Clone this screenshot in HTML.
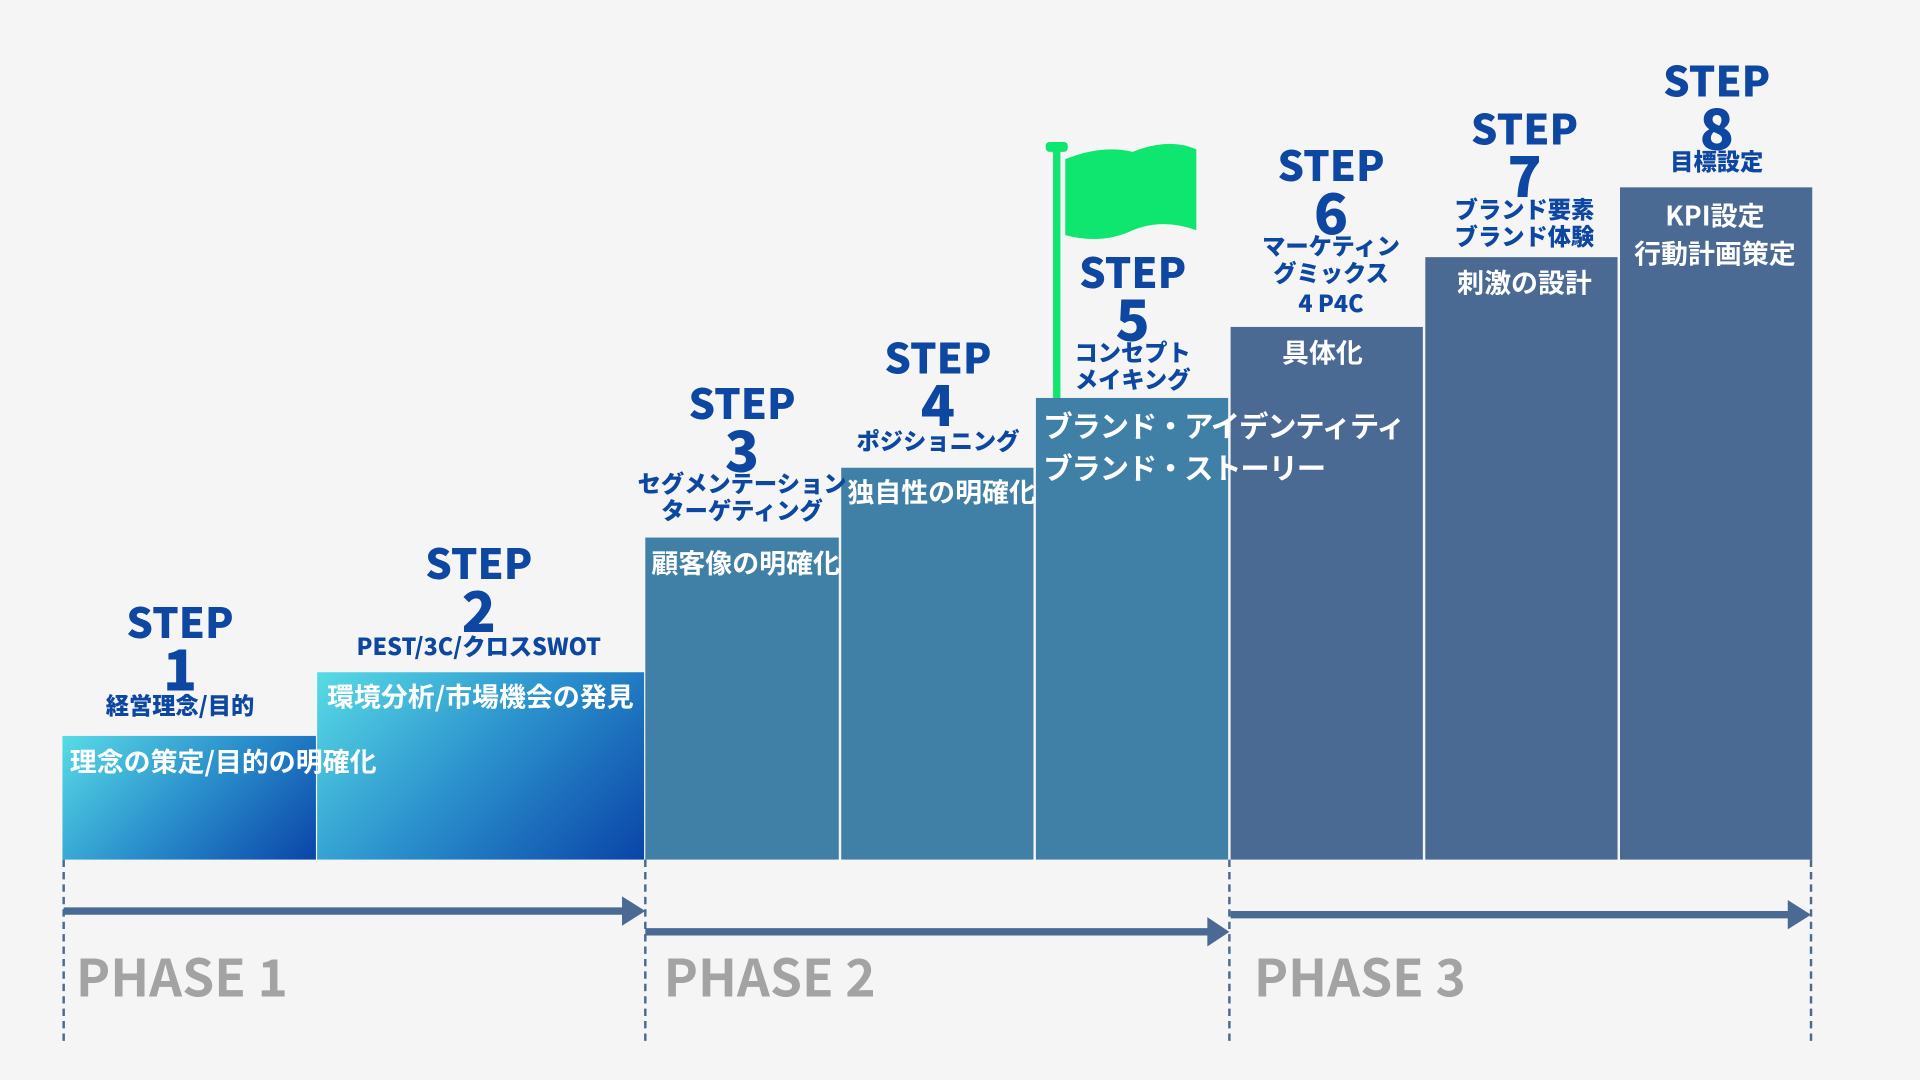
<!DOCTYPE html>
<html><head><meta charset="utf-8"><style>
html,body{margin:0;padding:0;background:#f5f5f5;width:1920px;height:1080px;overflow:hidden}
#c{position:absolute;left:0;top:0;width:1568px;height:882px;transform:scale(1.22449);transform-origin:0 0;font-family:"Liberation Sans","Noto Sans CJK JP",sans-serif;font-weight:bold}
.b{position:absolute}
.g{background:linear-gradient(135deg,#58dbe6 0%,#2a8fcc 50%,#0a44a8 100%)}
.m{background:#4080a7}
.d{background:#4b6a93}
.t{position:absolute;color:#0d47a1;text-align:center;width:220px;white-space:nowrap;font-family:"Noto Sans CJK JP",sans-serif;font-weight:900}
.s{font-size:34px;line-height:36px}
.n{font-size:46px;line-height:40px}
.l{font-size:19px;line-height:22px}
.w{position:absolute;color:#fff;font-size:22px;line-height:24px;white-space:nowrap;font-family:"Noto Sans CJK JP",sans-serif;font-weight:bold}
.ph{position:absolute;color:#a3a3a3;font-size:42px;font-family:"Noto Sans CJK JP",sans-serif;font-weight:bold;line-height:44px}
.v{position:absolute;top:702px;height:148px;border-left:2px dashed #4a6a90}
</style></head><body><div id="c">
<div class="b g" style="left:51px;top:601px;width:207px;height:101px"></div>
<div class="b g" style="left:259px;top:549px;width:267px;height:153px"></div>
<div class="b m" style="left:527px;top:439px;width:158px;height:263px"></div>
<div class="b m" style="left:687px;top:382px;width:157px;height:320px"></div>
<div class="b m" style="left:846px;top:325px;width:157px;height:377px"></div>
<div class="b d" style="left:1005px;top:267px;width:157px;height:435px"></div>
<div class="b d" style="left:1164px;top:210px;width:157px;height:492px"></div>
<div class="b d" style="left:1323px;top:153px;width:157px;height:549px"></div>

<svg class="b" style="left:0;top:0" width="1568" height="882">
<rect x="860" y="120" width="6" height="205" fill="#0ee66f"/>
<rect x="854" y="116" width="18" height="8" rx="3" fill="#0ee66f"/>
<path d="M870 130 Q900 118 925 124 Q955 112 977 122 L977 188 Q950 178 925 188 Q900 200 870 192 Z" fill="#0ee66f"/>
<g stroke="#4b6a93" stroke-width="6" fill="#4b6a93">
<line x1="52" y1="744" x2="514" y2="744"/>
<line x1="527" y1="761" x2="992" y2="761"/>
<line x1="1005" y1="747" x2="1466" y2="747"/>
</g>
<g fill="#4b6a93">
<path d="M508 732 L527 744 L508 756 Z"/>
<path d="M986 749 L1004 761 L986 773 Z"/>
<path d="M1460 735 L1479 747 L1460 759 Z"/>
</g>
</svg>
<div class="v" style="left:51px"></div>
<div class="v" style="left:526px"></div>
<div class="v" style="left:1003px"></div>
<div class="v" style="left:1478px"></div>

<div class="ph" style="left:62px;top:775px">PHASE 1</div>
<div class="ph" style="left:542px;top:775px">PHASE 2</div>
<div class="ph" style="left:1024px;top:775px">PHASE 3</div>

<div class="t" style="left:37px;top:489px"><div class="s">STEP</div><div class="n">1</div><div class="l">経営理念/目的</div></div>
<div class="t" style="left:281px;top:441px"><div class="s">STEP</div><div class="n">2</div><div class="l">PEST/3C/クロスSWOT</div></div>
<div class="t" style="left:496px;top:310px"><div class="s">STEP</div><div class="n">3</div><div class="l" style="margin-top:-2px">セグメンテーション<br>ターゲティング</div></div>
<div class="t" style="left:656px;top:273px"><div class="s">STEP</div><div class="n">4</div><div class="l">ポジショニング</div></div>
<div class="t" style="left:815px;top:203px"><div class="s">STEP</div><div class="n">5</div><div class="l" style="margin-top:-2px">コンセプト<br>メイキング</div></div>
<div class="t" style="left:977px;top:116px"><div class="s">STEP</div><div class="n">6</div><div class="l" style="margin-top:-2px">マーケティン<br>グミックス<br><span style="line-height:28px">4 P4C</span></div></div>
<div class="t" style="left:1135px;top:86px"><div class="s">STEP</div><div class="n">7</div><div class="l" style="margin-top:-2px">ブランド要素<br>ブランド体験</div></div>
<div class="t" style="left:1292px;top:47px"><div class="s">STEP</div><div class="n">8</div><div class="l" style="margin-top:-2px">目標設定</div></div>

<div class="w" style="left:57px;top:609px">理念の策定/目的の明確化</div>
<div class="w" style="left:267px;top:556px">環境分析/市場機会の発見</div>
<div class="w" style="left:532px;top:447px">顧客像の明確化</div>
<div class="w" style="left:692px;top:389px">独自性の明確化</div>
<div class="w" style="left:852px;top:330px;font-size:24px;line-height:34px;letter-spacing:-1px">ブランド・アイデンティティ<br>ブランド・ストーリー</div>
<div class="w" style="left:1047px;top:275px">具体化</div>
<div class="w" style="left:1190px;top:218px">刺激の設計</div>
<div class="w" style="left:1323px;top:160px;text-align:center;line-height:31px;width:155px">KPI設定<br>行動計画策定</div>
</div></body></html>
